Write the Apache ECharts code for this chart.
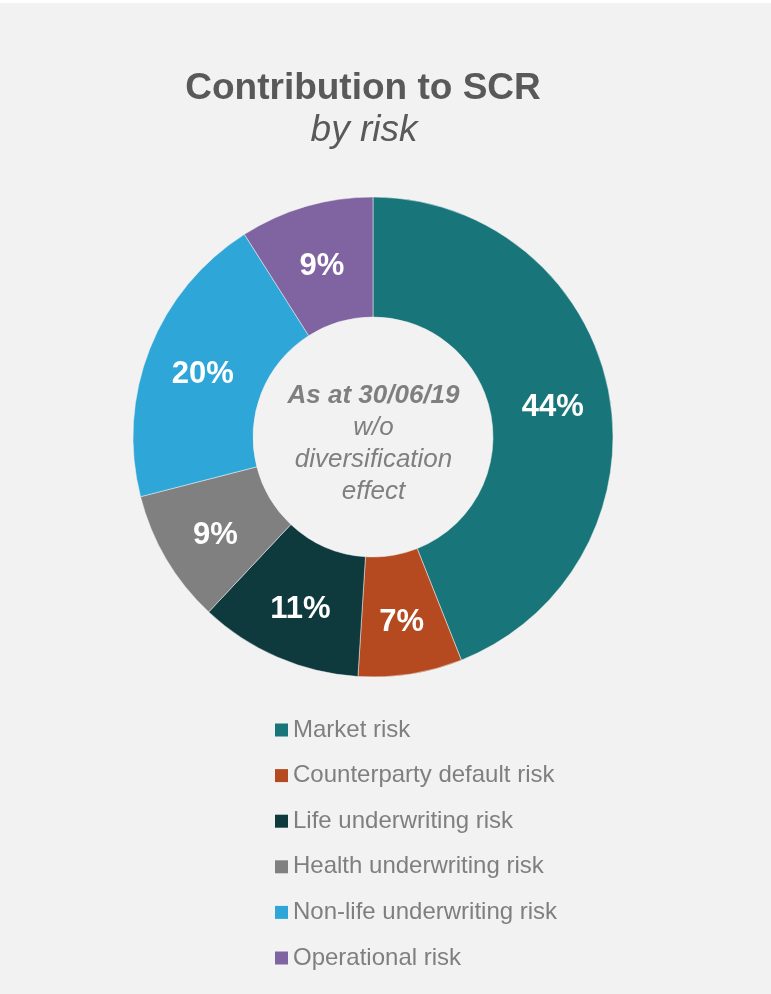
<!DOCTYPE html>
<html>
<head>
<meta charset="utf-8">
<script src="https://cdn.jsdelivr.net/npm/echarts@6/dist/echarts.min.js"></script>
<style>
html,body{margin:0;padding:0;background:#ffffff;}
#chart{width:771px;height:994px;}
</style>
</head>
<body>
<div id="chart"></div>
<script>
var categories = ['Market risk','Counterparty default risk','Life underwriting risk','Health underwriting risk','Non-life underwriting risk','Operational risk'];
var shares = [44, 7, 11, 9, 20, 9];
var colors = ['#18767a','#b54a20','#0e393d','#808080','#2ea6d8','#8064a2'];
var titleText = 'Contribution to SCR';
var subtitleText = 'by risk';
var centerLines = ['As at 30/06/19','w/o','diversification','effect'];

var chart = echarts.init(document.getElementById('chart'), null, {renderer:'canvas'});
var font = 'Liberation Sans, Arial, sans-serif';
var data = categories.map(function(c,i){ return {name:c, value:shares[i], itemStyle:{color:colors[i]}}; });

chart.setOption({
  backgroundColor:'#f2f2f2',
  animation:false,
  graphic:[
    {type:'rect', left:0, top:0, shape:{width:771, height:3}, style:{fill:'#ffffff'}},
    {type:'text', x:363, y:89, style:{text:titleText, fill:'#595959', font:'bold 37px '+font, textAlign:'center', textVerticalAlign:'middle'}},
    {type:'text', x:364, y:131, style:{text:subtitleText, fill:'#595959', font:'italic 37px '+font, textAlign:'center', textVerticalAlign:'middle'}},
    {type:'text', x:373.5, y:444, z:10, style:{
      text:'{a|'+centerLines[0]+'}\n{b|'+centerLines[1]+'}\n{b|'+centerLines[2]+'}\n{b|'+centerLines[3]+'}',
      textAlign:'center', textVerticalAlign:'middle',
      rich:{
        a:{fontFamily:font, fontSize:26, fontWeight:'bold', fontStyle:'italic', fill:'#7f7f7f', lineHeight:32, align:'center'},
        b:{fontFamily:font, fontSize:26, fontStyle:'italic', fill:'#7f7f7f', lineHeight:32, align:'center'}
      }
    }}
  ],
  legend:{
    orient:'vertical', left:275, top:718, padding:0,
    itemWidth:13, itemHeight:13, itemGap:21.6,
    icon:'rect',
    data:categories,
    itemStyle:{borderWidth:0},
    textStyle:{color:'#7f7f7f', fontSize:24, fontFamily:font, lineHeight:24, padding:[0,0,0,0]}
  },
  series:[{
    type:'pie',
    center:[373,437],
    radius:[120,240],
    startAngle:90,
    clockwise:true,
    avoidLabelOverlap:false,
    itemStyle:{borderColor:'#f2f2f2', borderWidth:0.5},
    label:{show:true, position:'inside', formatter:'{c}%', color:'#ffffff', fontSize:31, fontWeight:'bold', fontFamily:font},
    labelLayout:{dy:5},
    labelLine:{show:false},
    emphasis:{disabled:true},
    data:data
  }]
});
</script>
</body>
</html>
